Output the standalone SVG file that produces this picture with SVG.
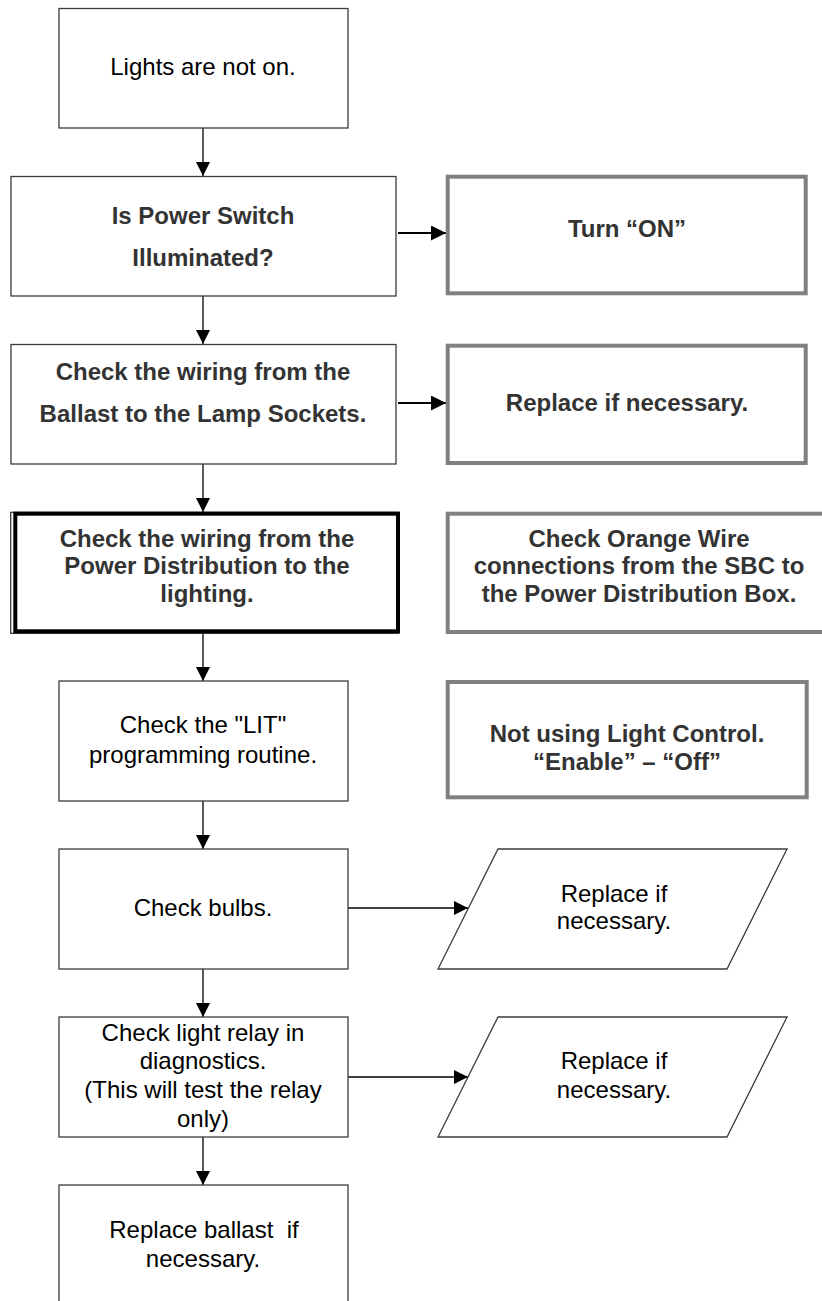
<svg xmlns="http://www.w3.org/2000/svg" width="822" height="1301" viewBox="0 0 822 1301">
  <style>
    .box { fill: #ffffff; stroke: #3c3c3c; stroke-width: 1.3; }
    .heavy { fill: none; stroke: #000000; stroke-width: 4; }
    .grey { fill: #ffffff; stroke: #808080; stroke-width: 4; }
    .t { font-family: "Liberation Sans", Arial, sans-serif; font-size: 24px; fill: #000000; text-anchor: middle; }
    .b { font-family: "Liberation Sans", Arial, sans-serif; font-size: 24px; font-weight: bold; fill: #333333; text-anchor: middle; }
    .line { stroke: #000000; stroke-width: 1.3; fill: none; }
    .line2 { stroke: #000000; stroke-width: 2; fill: none; }
  </style>
  <defs>
    <marker id="tri" viewBox="0 0 10 10" refX="10" refY="5" markerUnits="userSpaceOnUse" markerWidth="14" markerHeight="14" orient="auto">
      <path d="M0,0 L10,5 L0,10 z" fill="#000000"/>
    </marker>
    <marker id="tri2" viewBox="0 0 10 10" refX="10" refY="5" markerUnits="userSpaceOnUse" markerWidth="15" markerHeight="15" orient="auto">
      <path d="M0,0 L10,5 L0,10 z" fill="#000000"/>
    </marker>
  </defs>

  <rect width="822" height="1301" fill="#ffffff"/>

  <!-- connectors -->
  <g id="connectors">
    <line class="line" x1="203" y1="128" x2="203" y2="176" marker-end="url(#tri)"/>
    <line class="line" x1="203" y1="296" x2="203" y2="344" marker-end="url(#tri)"/>
    <line class="line" x1="203" y1="464" x2="203" y2="512" marker-end="url(#tri)"/>
    <line class="line" x1="203" y1="633" x2="203" y2="681" marker-end="url(#tri)"/>
    <line class="line" x1="203" y1="801" x2="203" y2="849" marker-end="url(#tri)"/>
    <line class="line" x1="203" y1="969" x2="203" y2="1017" marker-end="url(#tri)"/>
    <line class="line" x1="203" y1="1137" x2="203" y2="1185" marker-end="url(#tri)"/>
    <line class="line2" x1="398" y1="233" x2="446" y2="233" marker-end="url(#tri2)"/>
    <line class="line2" x1="398" y1="403" x2="446" y2="403" marker-end="url(#tri2)"/>
    <line class="line" x1="348" y1="908" x2="468" y2="908" marker-end="url(#tri)"/>
    <line class="line" x1="348" y1="1077" x2="468" y2="1077" marker-end="url(#tri)"/>
  </g>

  <g id="n-lights-off">
    <rect class="box" x="59" y="8.5" width="289" height="119.5"/>
    <text class="t" x="203" y="75">Lights are not on.</text>
  </g>

  <g id="n-power-switch">
    <rect class="box" x="11" y="176.5" width="385" height="119.5"/>
    <text class="b" x="203" y="224">Is Power Switch</text>
    <text class="b" x="203" y="266">Illuminated?</text>
  </g>

  <g id="n-turn-on">
    <rect class="grey" x="447.7" y="176.7" width="358" height="116.6"/>
    <text class="b" x="627" y="237">Turn “ON”</text>
  </g>

  <g id="n-ballast-wiring">
    <rect class="box" x="11" y="344.5" width="385" height="119.5"/>
    <text class="b" x="203" y="380">Check the wiring from the</text>
    <text class="b" x="203" y="421.5">Ballast to the Lamp Sockets.</text>
  </g>

  <g id="n-replace-wiring">
    <rect class="grey" x="447.7" y="345.7" width="358" height="117.3"/>
    <text class="b" x="627" y="411">Replace if necessary.</text>
  </g>

  <g id="n-distribution-wiring">
    <rect class="box" x="10.7" y="512.3" width="388" height="121"/>
    <rect class="heavy" x="15.3" y="513.7" width="382.7" height="117.6"/>
    <text class="b" x="207" y="547.3">Check the wiring from the</text>
    <text class="b" x="207" y="574.3">Power Distribution to the</text>
    <text class="b" x="207" y="601.7">lighting.</text>
  </g>

  <g id="n-orange-wire">
    <rect class="grey" x="447.7" y="513.7" width="386" height="118.3"/>
    <text class="b" x="639" y="547.3">Check Orange Wire</text>
    <text class="b" x="639" y="574.3">connections from the SBC to</text>
    <text class="b" x="639" y="602.3">the Power Distribution Box.</text>
  </g>

  <g id="n-lit-routine">
    <rect class="box" x="59" y="681" width="289" height="120"/>
    <text class="t" x="203" y="733">Check the "LIT"</text>
    <text class="t" x="203" y="763">programming routine.</text>
  </g>

  <g id="n-light-control">
    <rect class="grey" x="447.7" y="682" width="359" height="115.3"/>
    <text class="b" x="627" y="741.7">Not using Light Control.</text>
    <text class="b" x="627" y="770">“Enable” – “Off”</text>
  </g>

  <g id="n-bulbs">
    <rect class="box" x="59" y="849" width="289" height="120"/>
    <text class="t" x="203" y="915.7">Check bulbs.</text>
  </g>

  <g id="n-replace-bulbs">
    <polygon class="box" points="498,849 787,849 727,969 438,969"/>
    <text class="t" x="614" y="901.7">Replace if</text>
    <text class="t" x="614" y="929.3">necessary.</text>
  </g>

  <g id="n-relay">
    <rect class="box" x="59" y="1017" width="289" height="120"/>
    <text class="t" x="203" y="1040.7">Check light relay in</text>
    <text class="t" x="203" y="1069.3">diagnostics.</text>
    <text class="t" x="203" y="1098.3">(This will test the relay</text>
    <text class="t" x="203" y="1126.7">only)</text>
  </g>

  <g id="n-replace-relay">
    <polygon class="box" points="498,1017 787,1017 727,1137 438,1137"/>
    <text class="t" x="614" y="1069.3">Replace if</text>
    <text class="t" x="614" y="1098.3">necessary.</text>
  </g>

  <g id="n-ballast">
    <rect class="box" x="59" y="1185" width="289" height="130"/>
    <text class="t" x="204" y="1238.3" xml:space="preserve">Replace ballast  if</text>
    <text class="t" x="203" y="1266.7">necessary.</text>
  </g>
</svg>
